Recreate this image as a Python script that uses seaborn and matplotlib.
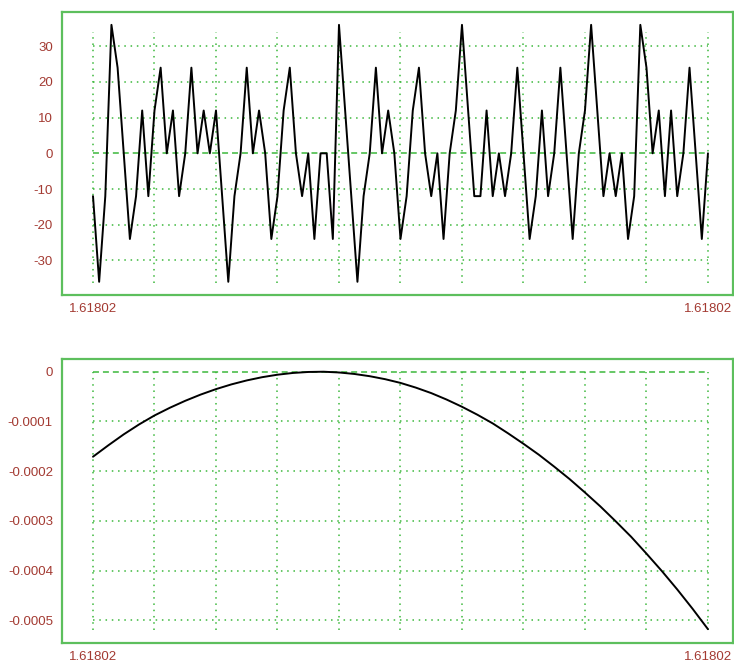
import numpy as np
import pandas as pd
import seaborn as sns
import matplotlib
matplotlib.use("Agg")
import matplotlib.pyplot as plt

# top panel: rounding error pattern, 101 samples (multiples of 12)
err_values = [-12, -36, -12, 36, 24, 0, -24, -12, 12, -12,
              12, 24, 0, 12, -12, 0, 24, 0, 12, 0,
              12, -12, -36, -12, 0, 24, 0, 12, 0, -24,
              -12, 12, 24, 0, -12, 0, -24, 0, 0, -24,
              36, 12, -12, -36, -12, 0, 24, 0, 12, 0,
              -24, -12, 12, 24, 0, -12, 0, -24, 0, 12,
              36, 12, -12, -12, 12, -12, 0, -12, 0, 24,
              0, -24, -12, 12, -12, 0, 24, 0, -24, 0,
              12, 36, 12, -12, 0, -12, 0, -24, -12, 36,
              24, 0, 12, -12, 12, -12, 0, 24, 0, -24,
              0]

# bottom panel: smooth curve, read every 2.5 samples
curve_idx = [k * 2.5 for k in range(41)]
curve_values = [-0.000171, -0.000148, -0.000126, -0.000106, -0.0000880,
                -0.0000725, -0.0000585, -0.0000460, -0.0000350, -0.0000255,
                -0.0000175, -0.0000110, -0.0000060, -0.0000025, -0.0000005,
                -0.0000000, -0.0000015, -0.0000045, -0.0000090, -0.0000150,
                -0.0000225, -0.0000320, -0.0000430, -0.0000560, -0.0000705,
                -0.0000865, -0.000104, -0.000124, -0.000145, -0.000167,
                -0.000191, -0.000216, -0.000243, -0.000271, -0.000301,
                -0.000332, -0.000366, -0.000401, -0.000438, -0.000477,
                -0.000518]

x_label = "1.61802"
top_yticks = [-30, -20, -10, 0, 10, 20, 30]
bot_yticks = [0, -0.0001, -0.0002, -0.0003, -0.0004, -0.0005]
bot_ylabels = ["0", "-0.0001", "-0.0002", "-0.0003", "-0.0004", "-0.0005"]

sns.set_style("white")
plt.rcParams['font.family'] = ['Liberation Sans', 'DejaVu Sans']

frame_col = '#5dbf5d'
grid_col = '#3cb83c'
label_col = '#a33a32'
dot = (0, (1, 3.1))
dash = (0, (3.9, 2.6))

fig = plt.figure(figsize=(7.34, 6.62), dpi=100)
W, H = 734, 662
ax1 = fig.add_axes([62 / W, 1 - 295 / H, (733 - 62) / W, (295 - 12) / H])
ax2 = fig.add_axes([62 / W, 1 - 643 / H, (733 - 62) / W, (643 - 359) / H])

top_df = pd.DataFrame({"i": np.arange(len(err_values)), "err": err_values})
bot_df = pd.DataFrame({"i": curve_idx, "val": curve_values})

n_last = len(err_values) - 1
grid_x = list(range(0, n_last + 1, 10))


def style_axes(ax, yticks, ylabels, ylo, yhi):
    for k in grid_x:
        ax.plot([k, k], [ylo, yhi], color=grid_col, lw=1.1, ls=dot, zorder=1)
    for y in yticks:
        ax.plot([0, n_last], [y, y], color=grid_col, lw=1.1,
                ls=dash if y == 0 else dot, zorder=1)
    ax.set_xticks([0, n_last])
    ax.set_xticklabels([x_label, x_label])
    ax.set_yticks(yticks)
    ax.set_yticklabels(ylabels)
    ax.tick_params(axis='both', length=0, labelsize=9.5, colors=label_col)
    ax.tick_params(axis='y', pad=6.5)
    ax.tick_params(axis='x', pad=5.5)
    for s in ax.spines.values():
        s.set_color(frame_col)
        s.set_linewidth(1.6)
    ax.set_xlabel("")
    ax.set_ylabel("")
    ax.set_xlim(-5.04, 104.07)


sns.lineplot(data=top_df, x="i", y="err", ax=ax1, color="black", lw=1.4, zorder=3)
style_axes(ax1, top_yticks, [str(t) for t in top_yticks], -36.4, 34.1)
ax1.set_ylim(-39.7, 39.6)

sns.lineplot(data=bot_df, x="i", y="val", ax=ax2, color="black", lw=1.4, zorder=3)
style_axes(ax2, bot_yticks, bot_ylabels, -0.000519, 0)
ax2.set_ylim(-0.0005458, 0.0000256)

fig.savefig("out.png", dpi=100)
